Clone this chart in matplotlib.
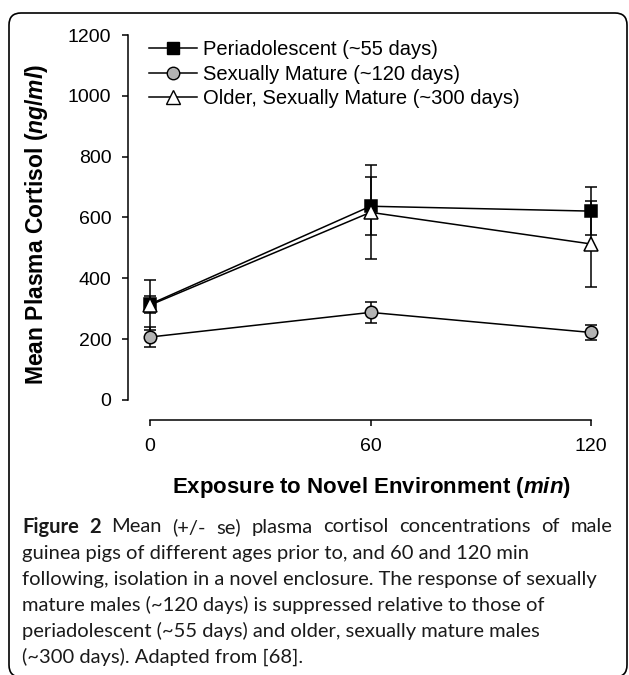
import matplotlib
matplotlib.use("Agg")
import matplotlib.pyplot as plt
from matplotlib.patches import FancyBboxPatch
from matplotlib.lines import Line2D

# data (mean +/- se, ng/ml)
minutes = [0, 60, 120]
peri_mean = [315, 637, 621]
peri_se = [28, 95, 80]
mature_mean = [207, 288, 222]
mature_se = [34, 34, 26]
older_mean = [312, 617, 513]
older_se = [83, 155, 140]

series_labels = ["Periadolescent (~55 days)",
                 "Sexually Mature (~120 days)",
                 "Older, Sexually Mature (~300 days)"]
y_ticks = [0, 200, 400, 600, 800, 1000, 1200]
x_ticks = [0, 60, 120]

caption_lines = [
    "Figure 2 Mean (+/- se) plasma cortisol concentrations of male",
    "guinea pigs of different ages prior to, and 60 and 120 min",
    "following, isolation in a novel enclosure. The response of sexually",
    "mature males (~120 days) is suppressed relative to those of",
    "periadolescent (~55 days) and older, sexually mature males",
    "(~300 days). Adapted from [68].",
]

W, H = 629, 675
plt.rcParams['font.family'] = ['Liberation Sans', 'DejaVu Sans']
plt.rcParams['mathtext.fontset'] = 'custom'
plt.rcParams['mathtext.it'] = 'Liberation Sans:italic:bold'
plt.rcParams['mathtext.rm'] = 'Liberation Sans:bold'


def fx(px):
    return px / W


def fy(py):
    return 1 - py / H


fig = plt.figure(figsize=(W / 100, H / 100), dpi=100)

# rounded frame around the whole figure
frame = FancyBboxPatch((fx(9), fy(677)), fx(627) - fx(9), fy(13) - fy(677),
                       boxstyle="round,pad=0,rounding_size=%f" % (12 / W),
                       mutation_aspect=W / H, transform=fig.transFigure,
                       facecolor='none', edgecolor='black', linewidth=1.2,
                       clip_on=False)
fig.patches.append(frame)

# axes placed so that x=0 -> 150px, x=120 -> 591px, y=0 -> 400px, y=1200 -> 35px
px_per_min = (591 - 150) / 120
px_per_unit = (400 - 35) / 1200
ax = fig.add_axes([fx(128), fy(420), fx(600) - fx(128), (420 - 35) / H])
ax.set_xlim((128 - 150) / px_per_min, 120 + (600 - 591) / px_per_min)
ax.set_ylim(-(420 - 400) / px_per_unit, 1200)
ax.patch.set_alpha(0)

lw = 1.1
ms = 8.5
common = dict(color='black', linewidth=lw, elinewidth=lw, capthick=lw,
              capsize=4.5, markeredgecolor='black', markeredgewidth=lw,
              clip_on=False)
ax.errorbar(minutes, peri_mean, yerr=peri_se, marker='s', markersize=ms,
            markerfacecolor='black', zorder=3, **common)
ax.errorbar(minutes, mature_mean, yerr=mature_se, marker='o',
            markersize=ms + 0.5, markerfacecolor='#b3b3b3', zorder=4,
            **common)
ax.errorbar(minutes, older_mean, yerr=older_se, marker='^',
            markersize=ms + 1, markerfacecolor='white', zorder=5, **common)

for side in ['top', 'right']:
    ax.spines[side].set_visible(False)
ax.spines['left'].set_bounds(0, 1200)
ax.spines['bottom'].set_bounds(0, 120)
ax.spines['left'].set_linewidth(lw)
ax.spines['bottom'].set_linewidth(lw)
ax.set_yticks(y_ticks)
ax.set_xticks(x_ticks)
ax.tick_params(axis='y', direction='out', length=4, width=lw, pad=8,
               labelsize=14)
ax.tick_params(axis='x', direction='out', length=4, width=lw, pad=9,
               labelsize=14)

fig.text(fx(37), fy(224), r"Mean Plasma Cortisol ($\mathit{ng/ml}$)",
         rotation=90, ha='center', va='center', fontsize=16.5,
         fontweight='bold')
fig.text(fx(371), fy(487), r"Exposure to Novel Environment ($\mathit{min}$)",
         ha='center', va='center', fontsize=16, fontweight='bold')

handles = [
    Line2D([], [], color='black', lw=lw, marker='s', ms=ms,
           mfc='black', mec='black'),
    Line2D([], [], color='black', lw=lw, marker='o', ms=ms + 0.5,
           mfc='#b3b3b3', mec='black'),
    Line2D([], [], color='black', lw=lw, marker='^', ms=ms + 1,
           mfc='white', mec='black'),
]
fig.legend(handles, series_labels, loc='upper left',
           bbox_to_anchor=(fx(149), fy(40)), bbox_transform=fig.transFigure,
           frameon=False, fontsize=14.5, handlelength=2.4, handletextpad=0.3,
           labelspacing=0.28, borderpad=0, borderaxespad=0)

# caption, first line justified to the full width
cap_font = ['Lato', 'DejaVu Sans']
cap_size = 14.5
line_y = [527, 553, 579, 605, 631, 657]
renderer = fig.canvas.get_renderer()

words = caption_lines[0].split(' ')
texts = []
for i, w in enumerate(words):
    t = fig.text(0, fy(line_y[0]), w, family=cap_font, fontsize=cap_size,
                 fontweight='bold' if i < 2 else 'normal', va='center',
                 ha='left', color='#1a1a1a')
    texts.append(t)
widths = [t.get_window_extent(renderer).width for t in texts]
gap = ((612 - 22) - sum(widths)) / (len(words) - 1)
cur = 22
for t, wd in zip(texts, widths):
    t.set_x(fx(cur))
    cur += wd + gap

for line, yy in zip(caption_lines[1:], line_y[1:]):
    fig.text(fx(22), fy(yy), line, family=cap_font, fontsize=cap_size,
             va='center', ha='left', color='#1a1a1a')

fig.savefig("out.png", dpi=100)
